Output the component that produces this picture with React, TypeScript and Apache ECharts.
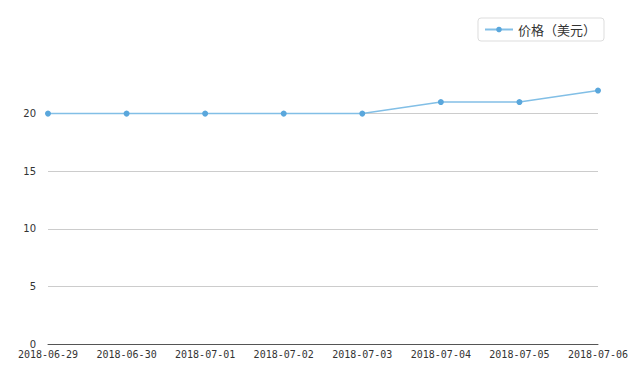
import React, { useEffect, useRef } from "react";
import * as echarts from "echarts";

const categories = [
  "2018-06-29",
  "2018-06-30",
  "2018-07-01",
  "2018-07-02",
  "2018-07-03",
  "2018-07-04",
  "2018-07-05",
  "2018-07-06",
];
const prices = [20, 20, 20, 20, 20, 21, 21, 22];
const seriesName = "价格（美元）";

export default function App() {
  const ref = useRef<HTMLDivElement>(null);
  useEffect(() => {
    if (!ref.current) return;
    const chart = echarts.init(ref.current, undefined, { renderer: "svg" });
    chart.setOption({
      animation: false,
      backgroundColor: "#ffffff",
      legend: {
        data: [seriesName],
        right: 36,
        top: 18,
        borderColor: "#dddddd",
        borderWidth: 1,
        borderRadius: 3,
        padding: [5, 8, 5, 6],
        itemWidth: 28,
        itemHeight: 7,
        itemGap: 6,
        textStyle: { fontSize: 13, color: "#333", fontFamily: "Noto Sans CJK SC" },
      },
      grid: { left: 48, right: 42, top: 56, bottom: 31 },
      xAxis: {
        type: "category",
        data: categories,
        boundaryGap: false,
        axisLine: { lineStyle: { color: "#555", width: 1 } },
        axisTick: { show: false },
        axisLabel: {
          fontFamily: "DejaVu Sans Mono",
          fontSize: 10,
          color: "#333",
          margin: 5,
        },
      },
      yAxis: {
        type: "value",
        min: 0,
        max: 25,
        interval: 5,
        axisLine: { show: false },
        axisTick: { show: false },
        axisLabel: {
          showMaxLabel: false,
          fontFamily: "DejaVu Sans",
          fontSize: 10,
          color: "#333",
          margin: 12,
        },
        splitLine: { showMaxLine: false, lineStyle: { color: "#cccccc" } },
      },
      series: [
        {
          name: seriesName,
          type: "line",
          data: prices,
          symbol: "circle",
          symbolSize: 6,
          itemStyle: { color: "#5aa7dc" },
          lineStyle: { color: "#82bfe6", width: 1.5 },
        },
      ],
    });
    return () => chart.dispose();
  }, []);
  return <div ref={ref} style={{ width: 640, height: 375, position: "absolute", left: 0, top: 0 }} />;
}
